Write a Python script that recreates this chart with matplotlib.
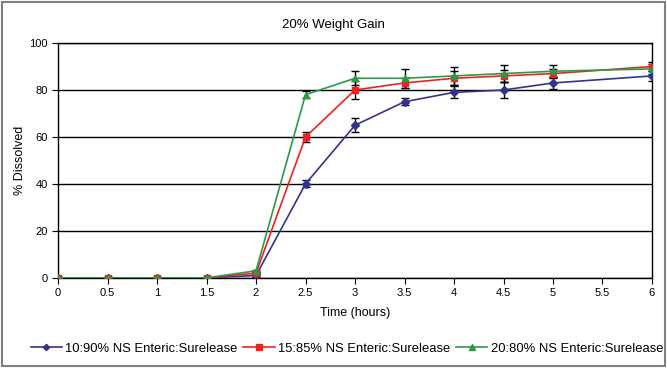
import matplotlib
matplotlib.use('Agg')
import matplotlib.pyplot as plt
from matplotlib.patches import Rectangle

plt.rcParams['font.family'] = ['Liberation Sans', 'DejaVu Sans']

# data
time_h = [0, 0.5, 1, 1.5, 2, 2.5, 3, 3.5, 4, 4.5, 5, 6]

ns10_mean = [0, 0, 0, 0, 1, 40, 65, 75, 79, 80, 83, 86]
ns10_err = [0.5, 0.5, 0.5, 0.5, 0.5, 1.5, 3, 1.5, 2.5, 3.5, 2.5, 2]

ns15_mean = [0, 0, 0, 0, 2, 60, 80, 83, 85, 86, 87, 90]
ns15_err = [0.5, 0.5, 0.5, 0.5, 0.5, 2, 4, 2, 3, 2.5, 2, 2]

ns20_mean = [0, 0, 0, 0, 3, 78, 85, 85, 86, 87, 88, 89]
ns20_err = [0.5, 0.5, 0.5, 0.5, 0.5, 1.5, 3, 4, 4, 3.5, 2.5, 2]

labels = ["10:90% NS Enteric:Surelease",
          "15:85% NS Enteric:Surelease",
          "20:80% NS Enteric:Surelease"]
x_ticks = [0, 0.5, 1, 1.5, 2, 2.5, 3, 3.5, 4, 4.5, 5, 5.5, 6]
x_ticklabels = ["0", "0.5", "1", "1.5", "2", "2.5", "3", "3.5", "4", "4.5", "5", "5.5", "6"]

fig = plt.figure(figsize=(6.67, 3.68), dpi=100)
ax = fig.add_axes([0.087, 0.245, 0.8905, 0.638])

series = [
    (ns10_mean, ns10_err, "#33338f", "D", 4),
    (ns15_mean, ns15_err, "#f02020", "s", 5),
    (ns20_mean, ns20_err, "#2a9a4a", "^", 5),
]
for (mean, err, color, marker, ms), label in zip(series, labels):
    ax.errorbar(time_h, mean, yerr=err, fmt="none", ecolor="black",
                elinewidth=1, capsize=3, capthick=1, zorder=3)
    ax.plot(time_h, mean, color=color, marker=marker, markersize=ms,
            lw=1.2, label=label, zorder=4)

ax.set_xlim(0, 6)
ax.set_ylim(0, 100)
ax.set_yticks([0, 20, 40, 60, 80, 100])
ax.set_xticks(x_ticks)
ax.set_xticklabels(x_ticklabels)
ax.yaxis.grid(True, color="black", lw=1)
ax.set_axisbelow(True)
ax.tick_params(labelsize=8, length=4, direction="out", color="black")
for s in ax.spines.values():
    s.set_color("black")
    s.set_linewidth(1)

ax.set_xlabel("Time (hours)", fontsize=9, labelpad=6)
ax.set_ylabel("% Dissolved", fontsize=9, labelpad=2)
fig.text(0.5, 0.932, "20% Weight Gain", ha="center", va="center", fontsize=9.5)

ax.legend(loc="center", bbox_to_anchor=(0.52, 0.052), bbox_transform=fig.transFigure,
          ncol=3, frameon=False, fontsize=9.4, handlelength=2.4,
          columnspacing=0.45, handletextpad=0.25, borderpad=0, markerscale=0.8)

fig.patches.append(Rectangle((0.003, 0.005), 0.994, 0.99, transform=fig.transFigure,
                             fill=False, edgecolor="#808080", lw=1.5))

plt.savefig("out.png", dpi=100)
